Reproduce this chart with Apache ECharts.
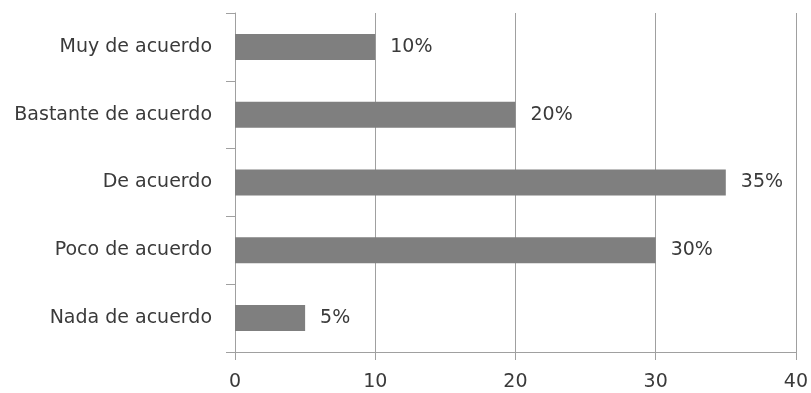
<!DOCTYPE html>
<html><head><meta charset="utf-8">
<script src="https://cdn.jsdelivr.net/npm/echarts@6/dist/echarts.min.js"></script>
<style>html,body{margin:0;padding:0;background:#fff}#c{width:811px;height:393px}</style>
</head><body><div id="c"></div>
<script>
var categories = ["Muy de acuerdo", "Bastante de acuerdo", "De acuerdo", "Poco de acuerdo", "Nada de acuerdo"];
var values = [10, 20, 35, 30, 5];
var xTicks = [0, 10, 20, 30, 40];

var chart = echarts.init(document.getElementById('c'));
var font = '"DejaVu Sans", Verdana, sans-serif';
chart.setOption({
  animation: false,
  grid: {left: 235, right: 15, top: 13, bottom: 41},
  xAxis: {
    type: 'value', min: xTicks[0], max: xTicks[xTicks.length-1], interval: 10,
    axisLine: {show: true, lineStyle: {color: '#a0a0a0', width: 1}},
    axisTick: {show: true, length: 8, lineStyle: {color: '#a0a0a0'}},
    splitLine: {show: true, lineStyle: {color: '#a0a0a0', width: 1}},
    axisLabel: {color: '#3a3a3a', fontFamily: font, fontSize: 19, margin: 21}
  },
  yAxis: {
    type: 'category', inverse: true, data: categories,
    axisLine: {show: true, lineStyle: {color: '#a0a0a0', width: 1}},
    axisTick: {show: true, length: 9, alignWithLabel: false, lineStyle: {color: '#a0a0a0'}},
    axisLabel: {color: '#3a3a3a', fontFamily: font, fontSize: 19, margin: 23}
  },
  series: [{
    type: 'bar', data: values, barWidth: 26,
    itemStyle: {color: '#7f7f7f'},
    label: {show: true, position: 'right', distance: 15, formatter: '{c}%', color: '#3a3a3a', fontFamily: font, fontSize: 19}
  }]
});
</script></body></html>
